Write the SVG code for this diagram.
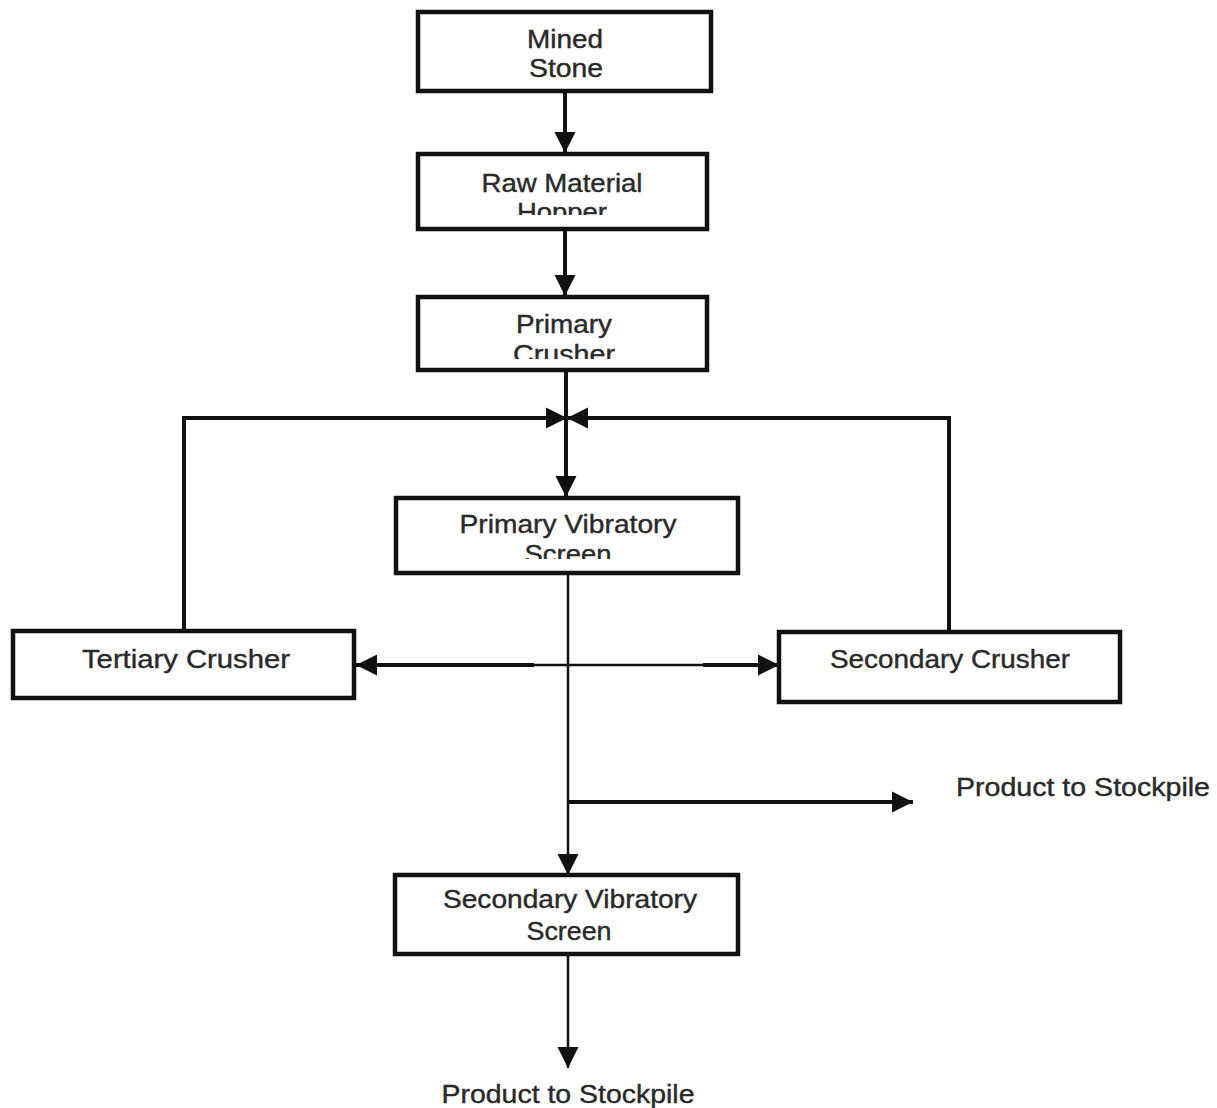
<svg xmlns="http://www.w3.org/2000/svg" width="1217" height="1108" viewBox="0 0 1217 1108">
<style>
.box{fill:#fff;stroke:#111;stroke-width:4.5}
.t{font-family:"Liberation Sans",Arial,sans-serif;font-size:25px;fill:#2a2a2a;stroke:#2a2a2a;stroke-width:0.4;text-anchor:middle}
.tl{font-family:"Liberation Sans",Arial,sans-serif;font-size:25px;fill:#2a2a2a;stroke:#2a2a2a;stroke-width:0.4}
.c{fill:none;stroke:#111;stroke-width:4}
.cn{fill:none;stroke:#111;stroke-width:2.5}
</style>
<defs>
<marker id="ah" viewBox="0 0 10 10" refX="10" refY="5" markerWidth="21" markerHeight="23" markerUnits="userSpaceOnUse" orient="auto">
<path d="M0,0 L10,5 L0,10 z" fill="#111"/>
</marker>
<clipPath id="clipHopper"><rect x="418" y="190" width="289" height="25"/></clipPath>
<clipPath id="clipCrusher"><rect x="418" y="335" width="289" height="24"/></clipPath>
<clipPath id="clipScreen"><rect x="395" y="535" width="344" height="24"/></clipPath>
</defs>
<rect width="1217" height="1108" fill="#fff"/>
<g id="connectors">
<path class="c" d="M565,92 V153" marker-end="url(#ah)"/>
<path class="c" d="M565,230 V296" marker-end="url(#ah)"/>
<path class="c" d="M566,372 V497" marker-end="url(#ah)"/>
<path class="c" d="M184,629 V418 H567" marker-end="url(#ah)"/>
<path class="c" d="M949,630 V418 H567" marker-end="url(#ah)"/>
<path class="cn" d="M568,573 V875" marker-end="url(#ah)"/>
<path class="cn" d="M534,665 H703"/>
<path class="c" d="M534,665 H356" marker-end="url(#ah)"/>
<path class="c" d="M703,665 H779" marker-end="url(#ah)"/>
<path class="c" d="M568,802 H913" marker-end="url(#ah)"/>
<path class="cn" d="M568,955 V1068" marker-end="url(#ah)"/>
</g>
<g id="mined-stone">
<rect class="box" x="418" y="12" width="293" height="79"/>
<text class="t" x="565" y="48" textLength="76" lengthAdjust="spacingAndGlyphs">Mined</text>
<text class="t" x="566" y="77" textLength="74" lengthAdjust="spacingAndGlyphs">Stone</text>
</g>
<g id="raw-material-hopper">
<rect class="box" x="418" y="154" width="289" height="75"/>
<text class="t" x="562" y="192" textLength="161" lengthAdjust="spacingAndGlyphs">Raw Material</text>
<text class="t" x="562" y="221" textLength="90" lengthAdjust="spacingAndGlyphs" clip-path="url(#clipHopper)">Hopper</text>
</g>
<g id="primary-crusher">
<rect class="box" x="418" y="297" width="289" height="73"/>
<text class="t" x="564" y="333" textLength="96" lengthAdjust="spacingAndGlyphs">Primary</text>
<text class="t" x="564" y="363" textLength="102" lengthAdjust="spacingAndGlyphs" clip-path="url(#clipCrusher)">Crusher</text>
</g>
<g id="primary-vibratory-screen">
<rect class="box" x="396" y="498" width="342" height="75"/>
<text class="t" x="568" y="533" textLength="217" lengthAdjust="spacingAndGlyphs">Primary Vibratory</text>
<text class="t" x="568" y="563" textLength="87" lengthAdjust="spacingAndGlyphs" clip-path="url(#clipScreen)">Screen</text>
</g>
<g id="tertiary-crusher">
<rect class="box" x="13" y="631" width="341" height="67"/>
<text class="t" x="186" y="668" textLength="208" lengthAdjust="spacingAndGlyphs">Tertiary Crusher</text>
</g>
<g id="secondary-crusher">
<rect class="box" x="779" y="632" width="341" height="70"/>
<text class="t" x="950" y="668" textLength="240" lengthAdjust="spacingAndGlyphs">Secondary Crusher</text>
</g>
<g id="product-right">
<text class="tl" x="956" y="796" textLength="254" lengthAdjust="spacingAndGlyphs">Product to Stockpile</text>
</g>
<g id="secondary-vibratory-screen">
<rect class="box" x="395" y="875" width="343" height="79"/>
<text class="t" x="570" y="908" textLength="254" lengthAdjust="spacingAndGlyphs">Secondary Vibratory</text>
<text class="t" x="569" y="940" textLength="85" lengthAdjust="spacingAndGlyphs">Screen</text>
</g>
<g id="product-bottom">
<text class="t" x="568" y="1103" textLength="253" lengthAdjust="spacingAndGlyphs">Product to Stockpile</text>
</g>
</svg>
